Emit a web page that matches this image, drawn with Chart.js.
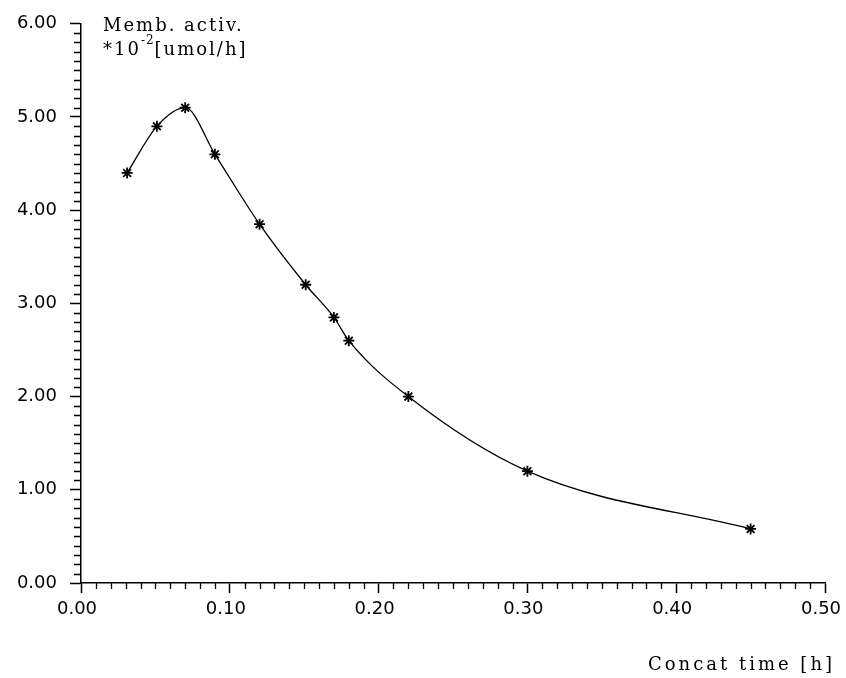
<!DOCTYPE html>
<html><head><meta charset="utf-8">
<script src="https://cdn.jsdelivr.net/npm/chart.js@4.4.0/dist/chart.umd.min.js"></script>
<style>html,body{margin:0;padding:0;background:#fff;}canvas{display:block;}</style>
</head><body>
<canvas id="c" width="846" height="678"></canvas>
<script>
const concatTime = [0.031, 0.051, 0.070, 0.090, 0.120, 0.151, 0.170, 0.180, 0.220, 0.300, 0.450];
const membActivity = [4.40, 4.90, 5.10, 4.60, 3.85, 3.20, 2.85, 2.60, 2.00, 1.20, 0.58];
const xTickValues = [0, 0.1, 0.2, 0.3, 0.4, 0.5];
const yTickValues = [0, 1, 2, 3, 4, 5, 6];
const xTitle = 'Concat time [h]';
const yTitleLine1 = 'Memb. activ.';
const yTitlePrefix = '*10';
const yTitleExp = '-2';
const yTitleUnit = '[umol/h]';

const points = concatTime.map((x, i) => ({ x: x, y: membActivity[i] }));

const minorTicks = {
  id: 'minorTicks',
  afterDraw(chart) {
    const ctx = chart.ctx, xs = chart.scales.x, ys = chart.scales.y, a = chart.chartArea;
    ctx.save();
    ctx.strokeStyle = '#000';
    ctx.lineWidth = 1.3;
    ctx.beginPath();
    for (let i = 1; i < 50; i++) {
      if (i % 10 === 0) continue;
      const px = Math.round(xs.getPixelForValue(i / 100)) + 0.5;
      ctx.moveTo(px, a.bottom);
      ctx.lineTo(px, a.bottom + 6);
    }
    for (let i = 1; i < 60; i++) {
      if (i % 10 === 0) continue;
      const py = Math.round(ys.getPixelForValue(i / 10)) + 0.5;
      ctx.moveTo(a.left - 7, py);
      ctx.lineTo(a.left, py);
    }
    ctx.stroke();
    ctx.restore();
  }
};

const axisTitles = {
  id: 'axisTitles',
  afterDraw(chart) {
    const ctx = chart.ctx, a = chart.chartArea;
    ctx.save();
    ctx.fillStyle = '#000';
    ctx.textBaseline = 'alphabetic';
    ctx.font = '18px "DejaVu Serif"';
    ctx.letterSpacing = '3px';
    ctx.textAlign = 'right';
    ctx.fillText(xTitle, 835, 670);
    ctx.textAlign = 'left';
    ctx.letterSpacing = '2px';
    let x = a.left + 22;
    ctx.fillText(yTitleLine1, x, 31);
    ctx.fillText(yTitlePrefix, x, 55);
    x += ctx.measureText(yTitlePrefix).width;
    ctx.font = '12px "DejaVu Serif"';
    ctx.letterSpacing = '1px';
    ctx.fillText(yTitleExp, x, 44);
    x += ctx.measureText(yTitleExp).width;
    ctx.font = '18px "DejaVu Serif"';
    ctx.letterSpacing = '2px';
    ctx.fillText(yTitleUnit, x, 55);
    ctx.restore();
  }
};

const tickFont = { family: '"DejaVu Sans"', size: 18, weight: 'normal' };

new Chart(document.getElementById('c'), {
  type: 'line',
  data: {
    datasets: [{
      data: points,
      borderColor: '#000',
      borderWidth: 1.3,
      cubicInterpolationMode: 'monotone',
      pointStyle: 'star',
      pointRadius: 5.5,
      pointBorderWidth: 1.8,
      pointBorderColor: '#000',
      pointBackgroundColor: '#000',
      fill: false
    }]
  },
  options: {
    responsive: false,
    animation: false,
    events: [],
    layout: { padding: { top: 20, right: 21, left: 0, bottom: 0 } },
    plugins: { legend: { display: false }, tooltip: { enabled: false } },
    scales: {
      x: {
        type: 'linear',
        min: 0, max: 0.5,
        afterBuildTicks(s) { s.ticks = xTickValues.map(v => ({ value: v })); },
        afterFit(s) { s.height = 95; s.paddingRight = 0; s.paddingLeft = 0; },
        ticks: {
          callback: v => v.toFixed(2),
          font: tickFont, color: '#000',
          padding: 6, labelOffset: -4, maxRotation: 0, autoSkip: false
        },
        grid: { drawOnChartArea: false, tickLength: 10, tickWidth: 1.5, tickColor: '#000' },
        border: { display: true, color: '#000', width: 1.5 }
      },
      y: {
        type: 'linear',
        min: 0, max: 6,
        afterBuildTicks(s) { s.ticks = yTickValues.map(v => ({ value: v })); },
        afterFit(s) { s.width = 81; },
        ticks: {
          callback: v => v.toFixed(2),
          font: tickFont, color: '#000',
          padding: 13, autoSkip: false
        },
        grid: { drawOnChartArea: false, tickLength: 11, tickWidth: 1.5, tickColor: '#000' },
        border: { display: true, color: '#000', width: 1.5 }
      }
    }
  },
  plugins: [minorTicks, axisTitles]
});
</script>
</body></html>
